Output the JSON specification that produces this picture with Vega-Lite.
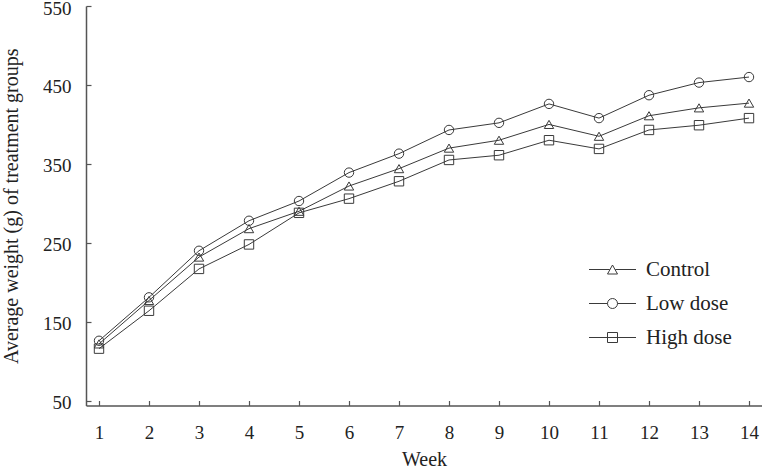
{
  "$schema": "https://vega.github.io/schema/vega-lite/v6.json",
  "autosize": {"type": "none"},
  "width": 676,
  "height": 399.5,
  "padding": {"left": 86, "top": 6, "right": 0, "bottom": 62.5},
  "background": "white",
  "config": {
    "view": {"stroke": null},
    "font": "Liberation Serif",
    "axis": {
      "grid": false,
      "domainColor": "#555555",
      "domainWidth": 1.5,
      "tickColor": "#555555",
      "tickWidth": 1.2,
      "tickSize": -5,
      "labelFont": "Liberation Serif",
      "labelFontSize": 19,
      "labelColor": "#222222",
      "titleFont": "Liberation Serif",
      "titleFontSize": 20,
      "titleFontWeight": "normal",
      "titleColor": "#222222"
    },
    "legend": {
      "labelFont": "Liberation Serif",
      "labelFontSize": 21,
      "labelColor": "#222222"
    }
  },
  "data": {
    "values": [
      {"week": 1, "group": "Control", "weight": 122},
      {"week": 2, "group": "Control", "weight": 177},
      {"week": 3, "group": "Control", "weight": 232},
      {"week": 4, "group": "Control", "weight": 268},
      {"week": 5, "group": "Control", "weight": 290},
      {"week": 6, "group": "Control", "weight": 322},
      {"week": 7, "group": "Control", "weight": 344},
      {"week": 8, "group": "Control", "weight": 370},
      {"week": 9, "group": "Control", "weight": 380},
      {"week": 10, "group": "Control", "weight": 400},
      {"week": 11, "group": "Control", "weight": 385},
      {"week": 12, "group": "Control", "weight": 411},
      {"week": 13, "group": "Control", "weight": 421},
      {"week": 14, "group": "Control", "weight": 427},
      {"week": 1, "group": "Low dose", "weight": 126},
      {"week": 2, "group": "Low dose", "weight": 181},
      {"week": 3, "group": "Low dose", "weight": 240},
      {"week": 4, "group": "Low dose", "weight": 278},
      {"week": 5, "group": "Low dose", "weight": 303},
      {"week": 6, "group": "Low dose", "weight": 339},
      {"week": 7, "group": "Low dose", "weight": 363},
      {"week": 8, "group": "Low dose", "weight": 393},
      {"week": 9, "group": "Low dose", "weight": 402},
      {"week": 10, "group": "Low dose", "weight": 426},
      {"week": 11, "group": "Low dose", "weight": 408},
      {"week": 12, "group": "Low dose", "weight": 437},
      {"week": 13, "group": "Low dose", "weight": 453},
      {"week": 14, "group": "Low dose", "weight": 460},
      {"week": 1, "group": "High dose", "weight": 116},
      {"week": 2, "group": "High dose", "weight": 164},
      {"week": 3, "group": "High dose", "weight": 217},
      {"week": 4, "group": "High dose", "weight": 248},
      {"week": 5, "group": "High dose", "weight": 288},
      {"week": 6, "group": "High dose", "weight": 306},
      {"week": 7, "group": "High dose", "weight": 328},
      {"week": 8, "group": "High dose", "weight": 355},
      {"week": 9, "group": "High dose", "weight": 361},
      {"week": 10, "group": "High dose", "weight": 380},
      {"week": 11, "group": "High dose", "weight": 369},
      {"week": 12, "group": "High dose", "weight": 393},
      {"week": 13, "group": "High dose", "weight": 399},
      {"week": 14, "group": "High dose", "weight": 408}
    ]
  },
  "encoding": {
    "x": {
      "field": "week",
      "type": "quantitative",
      "scale": {"domain": [0.74, 14.26], "nice": false, "zero": false},
      "axis": {
        "title": "Week",
        "values": [1, 2, 3, 4, 5, 6, 7, 8, 9, 10, 11, 12, 13, 14],
        "labelPadding": 23,
        "titleBaseline": "alphabetic",
        "titleY": 60
      }
    },
    "y": {
      "field": "weight",
      "type": "quantitative",
      "scale": {"domain": [44, 550], "nice": false, "zero": false},
      "axis": {
        "title": "Average weight (g) of treatment groups",
        "values": [50, 150, 250, 350, 450, 550],
        "labelPadding": 20,
        "labelOffset": 2,
        "titleAngle": -90,
        "titleBaseline": "alphabetic",
        "titleX": -68.5
      }
    }
  },
  "layer": [
    {
      "mark": {"type": "line", "color": "#3a3a3a", "strokeWidth": 1},
      "encoding": {"detail": {"field": "group"}}
    },
    {
      "mark": {"type": "point", "color": "#3a3a3a", "filled": false, "size": 88, "strokeWidth": 1, "opacity": 1},
      "encoding": {
        "shape": {
          "field": "group",
          "scale": {"domain": ["Control", "Low dose", "High dose"], "range": ["triangle-up", "circle", "square"]},
          "legend": null
        }
      }
    },
    {
      "transform": [{"filter": "false"}],
      "mark": {"type": "point", "color": "#3a3a3a", "filled": false, "size": 100, "strokeWidth": 1, "opacity": 1},
      "encoding": {
        "shape": {
          "field": "group",
          "scale": {
            "domain": ["Control", "Low dose", "High dose"],
            "range": [
              "M-4.7,0H-0.55M0.55,0H4.7M0,-0.9L1,0.9L-1,0.9Z",
              "M-4.7,0H-1M1,0H4.7M-1,0A1,1,0,1,1,1,0A1,1,0,1,1,-1,0Z",
              "M-4.7,0H4.7M-1,-1H1V1H-1Z"
            ]
          },
          "legend": {
            "title": null,
            "orient": "none",
            "legendX": 516,
            "legendY": 253,
            "symbolSize": 100,
            "symbolStrokeWidth": 1,
            "symbolStrokeColor": "#3a3a3a",
            "symbolFillColor": "transparent",
            "symbolOpacity": 1,
            "labelOffset": 23,
            "rowPadding": 12
          }
        }
      }
    }
  ],
  "resolve": {"scale": {"shape": "independent"}}
}
